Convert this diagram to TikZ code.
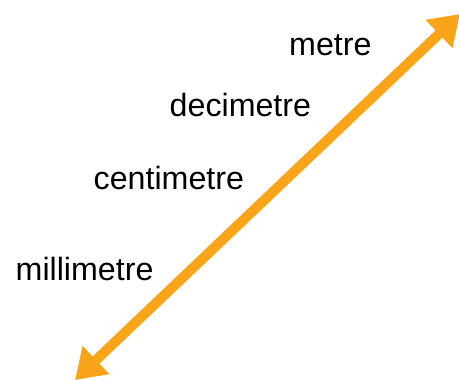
\documentclass[tikz,border=0pt]{standalone}
\usepackage{fontspec}
\setmainfont{Liberation Sans}
\usetikzlibrary{arrows.meta}
\definecolor{arroworange}{RGB}{250,165,25}
\begin{document}
\begin{tikzpicture}[x=1pt,y=-1pt,
  unitlabel/.style={anchor=base west,inner sep=0pt,font=\fontsize{32.2}{36}\selectfont,text=black},
  scalearrow/.style={draw=arroworange,line width=10pt,
    {Triangle[length=29pt,width=37pt]}-{Triangle[length=29pt,width=37pt]}}]
\useasboundingbox (0,0) rectangle (459,380);
\clip (0,0) rectangle (459,380);
\coordinate (low) at (75,380);
\coordinate (high) at (460,14);
\draw[scalearrow] (low) -- (high);
\node[unitlabel] (metre) at (289,56) {metre};
\node[unitlabel] (decimetre) at (169.5,116.5) {decimetre};
\node[unitlabel] (centimetre) at (93.5,189) {centimetre};
\node[unitlabel] (millimetre) at (15.5,280) {millimetre};
\end{tikzpicture}
\end{document}
